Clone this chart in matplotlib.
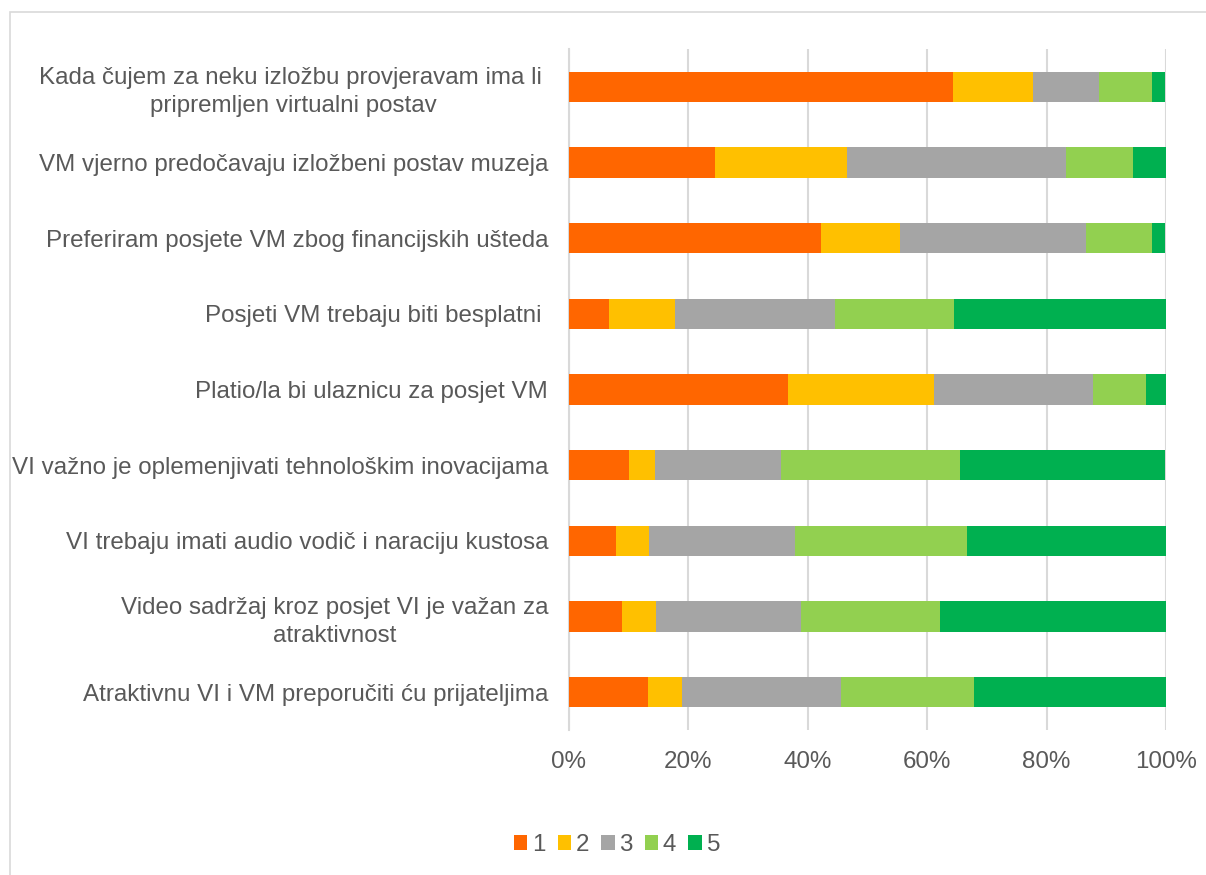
import matplotlib
matplotlib.use("Agg")
import matplotlib.pyplot as plt
from matplotlib.patches import Rectangle
import numpy as np

plt.rcParams['font.family'] = ['Liberation Sans', 'DejaVu Sans']

labels = [
    "Kada čujem za neku izložbu provjeravam ima li \npripremljen virtualni postav",
    "VM vjerno predočavaju izložbeni postav muzeja",
    "Preferiram posjete VM zbog financijskih ušteda",
    "Posjeti VM trebaju biti besplatni ",
    "Platio/la bi ulaznicu za posjet VM",
    "VI važno je oplemenjivati tehnološkim inovacijama",
    "VI trebaju imati audio vodič i naraciju kustosa",
    "Video sadržaj kroz posjet VI je važan za\natraktivnost",
    "Atraktivnu VI i VM preporučiti ću prijateljima",
]

# share of answers (%) per grade
g1 = [64.4, 24.4, 42.2, 6.7, 36.7, 10.0, 7.8, 8.9, 13.3]
g2 = [13.3, 22.2, 13.3, 11.1, 24.4, 4.4, 5.6, 5.6, 5.6]
g3 = [11.1, 36.7, 31.1, 26.7, 26.7, 21.1, 24.4, 24.4, 26.7]
g4 = [8.9, 11.1, 11.1, 20.0, 8.9, 30.0, 28.9, 23.3, 22.2]
g5 = [2.2, 5.6, 2.2, 35.6, 3.3, 34.4, 33.3, 37.8, 32.2]

series = [("1", g1, "#FF6600"), ("2", g2, "#FFC000"), ("3", g3, "#A5A5A5"),
          ("4", g4, "#92D050"), ("5", g5, "#00B050")]

txt = "#595959"
grid = "#D9D9D9"
fs = 17.4

fig = plt.figure(figsize=(12.06, 8.75), dpi=100)
fig.patches.append(Rectangle((10 / 1206, -0.05), 1.1, 1 - 12 / 875 + 0.05,
                             transform=fig.transFigure, fill=False,
                             edgecolor=grid, linewidth=1.2))

ax = fig.add_axes([569 / 1206, 1 - 730 / 875, 597 / 1206, 681 / 875])

y = np.arange(len(labels))
left = np.zeros(len(labels))
handles = []
for name, vals, col in series:
    vals = np.array(vals)
    b = ax.barh(y, vals, left=left, height=0.4, color=col, label=name, zorder=3)
    left += vals
    handles.append(b)

ax.set_ylim(len(labels) - 0.5, -0.5)
ax.set_xlim(0, 100)
ax.set_xticks(np.arange(0, 101, 20))
ax.set_xticklabels([f"{v}%" for v in range(0, 101, 20)])
ax.set_yticks(y)
ax.set_yticklabels(labels, multialignment='center', linespacing=1.35)

ax.grid(axis='x', color=grid, linewidth=1.5, zorder=0)
for s in ['top', 'right', 'bottom']:
    ax.spines[s].set_visible(False)
ax.spines['left'].set_color(grid)
ax.spines['left'].set_linewidth(1.5)
ax.tick_params(axis='y', length=0, pad=15, labelsize=fs, labelcolor=txt)
ax.tick_params(axis='x', length=0, pad=15, labelsize=fs, labelcolor=txt)

fig.legend(handles=handles, loc='center', bbox_to_anchor=(617 / 1206, 1 - 845 / 875),
           ncol=5, frameon=False, fontsize=fs, labelcolor=txt,
           handlelength=0.55, handleheight=0.55, handletextpad=0.2,
           columnspacing=0.5)

fig.savefig("out.png", dpi=100)
